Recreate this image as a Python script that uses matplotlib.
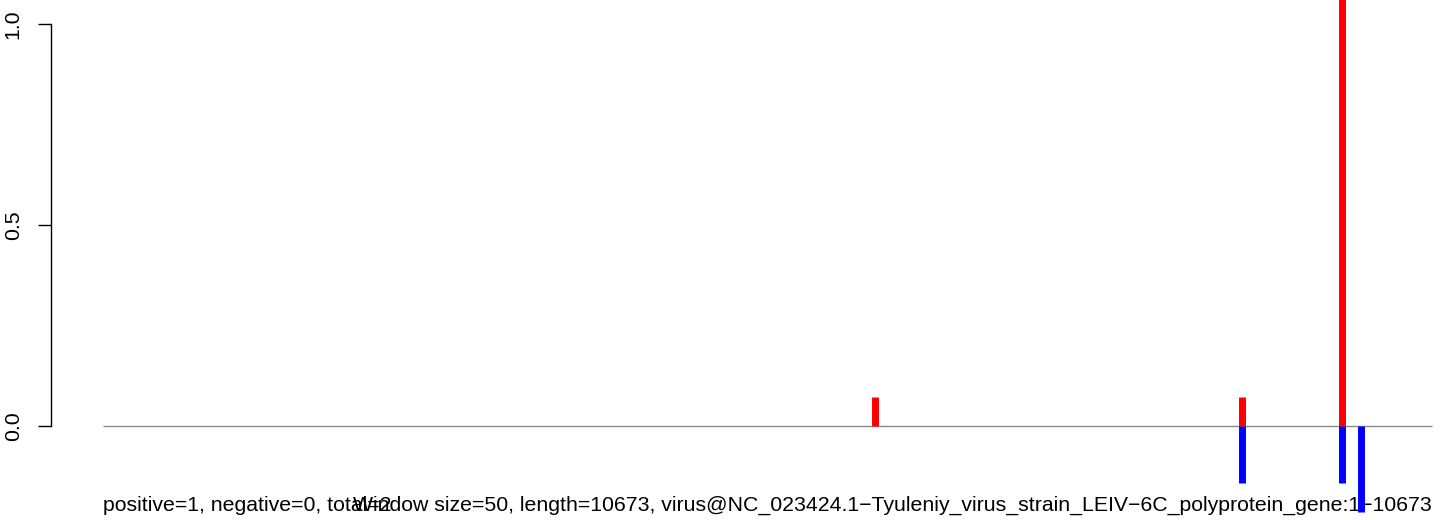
import matplotlib
matplotlib.use("Agg")
import matplotlib.pyplot as plt

# data (positions in bp, normalized signal)
seq_length = 10673
pos_positions = [6200, 9150, 9950]
pos_values = [0.0714, 0.0714, 1.5]
neg_positions = [9150, 9950, 10100]
neg_values = [-0.143, -0.143, -0.214]
yticks = [0.0, 0.5, 1.0]
ytick_labels = ["0.0", "0.5", "1.0"]
left_text = "positive=1, negative=0, total=2"
right_text = "Window size=50, length=10673, virus@NC_023424.1\u2212Tyuleniy_virus_strain_LEIV\u22126C_polyprotein_gene:1\u221210673"

W, H = 1444, 520
fig = plt.figure(figsize=(W / 100, H / 100), dpi=100)
ax = fig.add_axes([0, 0, 1, 1])
ax.patch.set_alpha(0)

# pixel mapping
x0_px, x1_px = 103, 1432
ppb = (x1_px - x0_px) / seq_length
xmin = -x0_px / ppb
xmax = seq_length + (W - x1_px) / ppb
y0_px, y1_px = 426, 24
ppu = (y0_px - y1_px)
ymax = y0_px / ppu
ymin = -(H - y0_px) / ppu
ax.set_xlim(xmin, xmax)
ax.set_ylim(ymin, ymax)

ax.hlines(0, 0, seq_length, color="#8a8a8a", linewidth=1.0, zorder=1)
ax.vlines(pos_positions, 0, pos_values, color="#ff0000", linewidth=5.0, capstyle="butt", zorder=3)
ax.vlines(neg_positions, 0, neg_values, color="#0000ff", linewidth=5.0, capstyle="butt", zorder=3)

FS = 15.3
for s in ["top", "right", "bottom"]:
    ax.spines[s].set_visible(False)
ax.spines["left"].set_position(("axes", 51 / W))
ax.spines["left"].set_bounds(0, 1)
ax.spines["left"].set_linewidth(1.0)
ax.set_xticks([])
ax.set_yticks(yticks)
ax.set_yticklabels(ytick_labels, rotation=90, va="center", family="Liberation Sans", fontsize=FS)
ax.tick_params(axis="y", length=9.4, width=1.0, pad=11)

ax.text(x0_px / W, 1 - 511 / H, left_text, transform=ax.transAxes, ha="left", va="baseline",
        family="Liberation Sans", fontsize=FS, zorder=2)
ax.text(x1_px / W, 1 - 511 / H, right_text, transform=ax.transAxes, ha="right", va="baseline",
        family="Liberation Sans", fontsize=FS, zorder=2)

fig.savefig("out.png", dpi=100)
